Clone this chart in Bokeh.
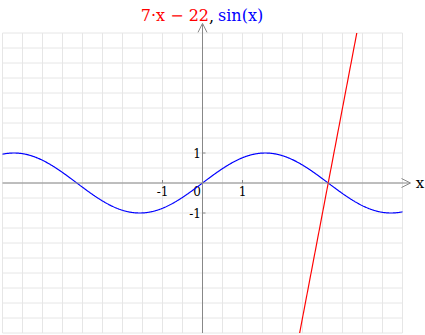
import numpy as np
from bokeh.plotting import figure
from bokeh.models import Arrow, OpenHead, ColumnDataSource
from bokeh.core.properties import value
from bokeh.embed import file_html
from bokeh.resources import INLINE

# ---- data ----
grid_vals = [v / 2 for v in range(-10, 11)]      # grid every 0.5 unit
x_ticks = [-1, 1]
x_tick_labels = ["-1", "1"]
y_ticks = [1, -1]
y_tick_labels = ["1", "-1"]
sin_x = np.linspace(-5, 5, 801)
sin_y = np.sin(sin_x)
line_slope, line_intercept = 7, -22
line_y = [-5, 5]
line_x = [(yv - line_intercept) / line_slope for yv in line_y]

W, H = 425, 335
# pixel geometry: origin at (202, 182.5); 40 px / unit in x, 30 px / unit in y
x0, sx = 202.0, 40.0
y0, sy = 182.5, 30.0
x_range = (-x0 / sx, (W - x0) / sx)
y_range = ((y0 - H) / sy, y0 / sy)

p = figure(width=W, height=H, x_range=x_range, y_range=y_range,
           output_backend="svg", toolbar_location=None, min_border=0,
           x_axis_type=None, y_axis_type=None)
p.grid.visible = False
p.outline_line_color = None
p.background_fill_color = "white"

grid_color = "#e6e6e6"
p.segment(x0=grid_vals, y0=[-5] * len(grid_vals), x1=grid_vals, y1=[5] * len(grid_vals),
          line_color=grid_color, line_width=1)
p.segment(x0=[-5] * len(grid_vals), y0=grid_vals, x1=[5] * len(grid_vals), y1=grid_vals,
          line_color=grid_color, line_width=1)

axis_color = "#888888"
p.add_layout(Arrow(end=OpenHead(size=9, line_color=axis_color, line_width=1),
                   x_start=-5, y_start=0, x_end=5.2, y_end=0,
                   line_color=axis_color, line_width=1))
p.add_layout(Arrow(end=OpenHead(size=9, line_color=axis_color, line_width=1),
                   x_start=0, y_start=-5, x_end=0, y_end=5.32,
                   line_color=axis_color, line_width=1))

# tick marks
p.segment(x0=x_ticks, y0=[0] * 2, x1=x_ticks, y1=[3 / sy] * 2, line_color=axis_color)
p.segment(x0=[0] * 2, y0=y_ticks, x1=[3 / sx] * 2, y1=y_ticks, line_color=axis_color)

font = value("DejaVu Serif")
p.text(x=x_ticks, y=[-3 / sy] * 2, text=x_tick_labels, text_font=font,
       text_font_size="12px", text_align="center", text_baseline="top", text_color="black")
p.text(x=[-1.5 / sx] * 2, y=y_ticks, text=y_tick_labels, text_font=font,
       text_font_size="12px", text_align="right", text_baseline="middle", text_color="black")
p.text(x=[-1.5 / sx], y=[-3 / sy], text=["0"], text_font=font,
       text_font_size="12px", text_align="right", text_baseline="top", text_color="black")
p.text(x=[5.33], y=[0], text=["x"], text_font=font, text_font_size="15px",
       text_align="left", text_baseline="middle", text_color="black")

# curves
p.line(sin_x, sin_y, line_color="#0000ff", line_width=1.2)
p.line(line_x, line_y, line_color="#ff0000", line_width=1.2)

# title pieces
ty = (y0 - 15) / sy
p.text(x=[(208.5 - x0) / sx], y=[ty], text=["7\u00b7x \u2212 22"], text_font=font,
       text_font_size="16px", text_align="right", text_baseline="alphabetic", text_color="#ff0000")
p.text(x=[(208.5 - x0) / sx], y=[ty], text=[","], text_font=font,
       text_font_size="16px", text_align="left", text_baseline="alphabetic", text_color="black")
p.text(x=[(217.5 - x0) / sx], y=[ty], text=["sin(x)"], text_font=font,
       text_font_size="16px", text_align="left", text_baseline="alphabetic", text_color="#0000ff")

html = file_html(p, INLINE)
html = html.replace("<head>", "<head><style>html,body{margin:0;padding:0;}</style>", 1)
open("out.html", "w").write(html)
